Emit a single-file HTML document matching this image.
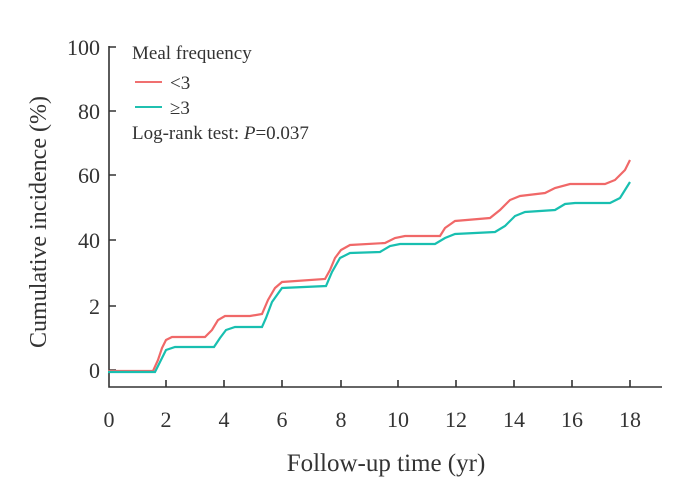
<!DOCTYPE html>
<html><head><style>body{margin:0;background:#fff}svg{display:block}text{font-family:"Liberation Serif",serif;fill:#333}</style></head><body>
<svg width="700" height="490" viewBox="0 0 700 490">
<g stroke="#333" stroke-width="1.6" fill="none">
<path d="M109 46 V387 H662"/>
<path d="M109 47 h7 M109 111 h7 M109 175 h7 M109 240 h7 M109 306 h7 M109 370 h7"/>
<path d="M166 387 v-7 M224 387 v-7 M282 387 v-7 M341 387 v-7 M398 387 v-7 M456 387 v-7 M514 387 v-7 M572 387 v-7 M630 387 v-7"/>
</g>
<g font-size="22" text-anchor="end">
<text x="100" y="55">100</text><text x="100" y="119">80</text><text x="100" y="183">60</text><text x="100" y="248">40</text><text x="100" y="314">2</text><text x="100" y="378">0</text>
</g>
<g font-size="22" text-anchor="middle">
<text x="109" y="427">0</text><text x="166" y="427">2</text><text x="224" y="427">4</text><text x="282" y="427">6</text><text x="341" y="427">8</text><text x="398" y="427">10</text><text x="456" y="427">12</text><text x="514" y="427">14</text><text x="572" y="427">16</text><text x="630" y="427">18</text>
</g>
<text x="386" y="471" font-size="25" text-anchor="middle">Follow-up time (yr)</text>
<text transform="translate(46,222) rotate(-90)" font-size="24" text-anchor="middle">Cumulative incidence (%)</text>
<text x="132" y="59" font-size="19">Meal frequency</text>
<line x1="135" y1="82" x2="162" y2="82" stroke="#f07070" stroke-width="2"/><text x="170" y="89" font-size="19">&lt;3</text>
<line x1="135" y1="107" x2="162" y2="107" stroke="#20c0b0" stroke-width="2"/><text x="170" y="114" font-size="19">≥3</text>
<text x="132" y="139" font-size="19">Log-rank test: <tspan font-style="italic">P</tspan>=0.037</text>
<polyline fill="none" stroke="#f06868" stroke-width="2.2" points="108,371 153,371 158,360 162,348 166,340 172,337 205,337 212,330 218,320 225,316 250,316 262,314 268,300 275,288 282,282 325,279 330,270 335,258 341,250 350,245 385,243 395,238 405,236 440,236 445,228 455,221 490,218 500,210 510,200 520,196 545,193 555,188 570,184 605,184 615,180 625,170 630,160"/>
<polyline fill="none" stroke="#18bfb0" stroke-width="2.2" points="108,372 155,372 160,362 166,350 175,347 214,347 220,338 226,330 235,327 262,327 266,318 272,302 282,288 326,286 332,272 340,258 350,253 380,252 390,246 400,244 435,244 445,238 455,234 495,232 505,226 515,216 525,212 555,210 565,204 575,203 610,203 620,198 630,182"/>
</svg>
</body></html>
